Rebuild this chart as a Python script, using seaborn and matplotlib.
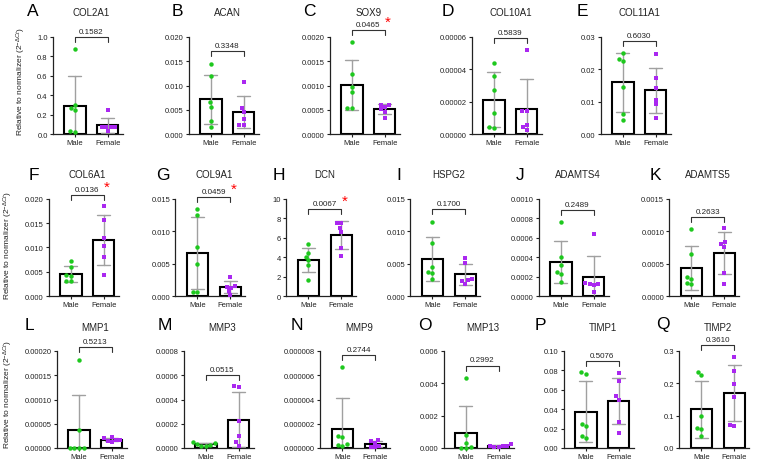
import numpy as np
import pandas as pd
import matplotlib
matplotlib.use("Agg")
import matplotlib.pyplot as plt
import matplotlib.transforms as mtransforms
import seaborn as sb

# ---- data (relative expression, 6 donors per group) ----
genes = ["COL2A1", "ACAN", "SOX9", "COL10A1", "COL11A1",
         "COL6A1", "COL9A1", "DCN", "HSPG2", "ADAMTS4", "ADAMTS5",
         "MMP1", "MMP3", "MMP9", "MMP13", "TIMP1", "TIMP2"]
letters = list("ABCDEFGHIJKLMNOPQ")
p_values = ["0.1582", "0.3348", "0.0465", "0.5839", "0.6030",
            "0.0136", "0.0459", "0.0067", "0.1700", "0.2489", "0.2633",
            "0.5213", "0.0515", "0.2744", "0.2992", "0.5076", "0.3610"]

male_values = [
    [0.873, 0.298, 0.247, 0.267, 0.024, 0.034],
    [0.0144, 0.0120, 0.0065, 0.0056, 0.0027, 0.0015],
    [0.00190, 0.00123, 0.00097, 0.00087, 0.00053, 0.00053],
    [4.42e-5, 3.60e-5, 2.73e-5, 1.27e-5, 4.1e-6, 3.5e-6],
    [0.0250, 0.0233, 0.0226, 0.0144, 0.0062, 0.0044],
    [0.0072, 0.0060, 0.0043, 0.0041, 0.0031, 0.0031],
    [0.0135, 0.0126, 0.0076, 0.0050, 0.0006, 0.0006],
    [5.38, 4.45, 4.04, 3.66, 3.18, 1.64],
    [0.0114, 0.0082, 0.0045, 0.0037, 0.0036, 0.0026],
    [0.00076, 0.00040, 0.00032, 0.00025, 0.00023, 0.00014],
    [0.00103, 0.00065, 0.00029, 0.00027, 0.00020, 0.00018],
    [1.81e-4, 3.77e-5, 1.0e-6, 1.0e-6, 5e-7, 5e-7],
    [4.7e-5, 3.8e-5, 3.3e-5, 2.5e-5, 1.9e-5, 1.4e-5],
    [6.71e-6, 9.6e-7, 8.8e-7, 3.3e-7, 2.5e-7, 1.9e-7],
    [0.00431, 0.00080, 0.00029, 0.00004, 0.0, 0.0],
    [0.0765, 0.0779, 0.0252, 0.0228, 0.0126, 0.0102],
    [0.2265, 0.2347, 0.099, 0.0633, 0.058, 0.0357],
]
female_values = [
    [0.247, 0.068, 0.068, 0.068, 0.068, 0.027],
    [0.0107, 0.0053, 0.0045, 0.0031, 0.0019, 0.0019],
    [0.00060, 0.00059, 0.00056, 0.00051, 0.00046, 0.00034],
    [5.2e-5, 1.44e-5, 1.44e-5, 5.5e-6, 4.1e-6, 2.7e-6],
    [0.0247, 0.0173, 0.0141, 0.0106, 0.0093, 0.0050],
    [0.0186, 0.0156, 0.0120, 0.0103, 0.0081, 0.0043],
    [0.0029, 0.0016, 0.0014, 0.0013, 0.0008, 0.0002],
    [7.53, 7.53, 7.02, 6.61, 4.97, 4.11],
    [0.0058, 0.0051, 0.0027, 0.0024, 0.0023, 0.0019],
    [0.00064, 0.000137, 0.000127, 0.00012, 0.00011, 0.00004],
    [0.00105, 0.00083, 0.00080, 0.00076, 0.00035, 0.00018],
    [2.33e-5, 2.0e-5, 1.65e-5, 1.5e-5, 1.65e-5, 1.3e-5],
    [5.07e-4, 5.12e-4, 2.25e-4, 9.6e-5, 4.7e-5, 1.9e-5],
    [7.0e-7, 5.5e-7, 4.5e-7, 2.0e-7, 1.0e-7, 5e-8],
    [0.00025, 0.00015, 0.00012, 0.00010, 0.00008, 0.00005],
    [0.0772, 0.0687, 0.0534, 0.0500, 0.0272, 0.0150],
    [0.2827, 0.2367, 0.199, 0.158, 0.0684, 0.0714],
]

y_max = [1.0, 0.020, 0.0020, 0.00006, 0.03,
         0.020, 0.015, 10, 0.015, 0.0010, 0.0015,
         0.00020, 0.0008, 0.000008, 0.006, 0.10, 0.3]
y_nticks = [5, 4, 4, 3, 3, 4, 3, 5, 3, 5, 3, 4, 4, 4, 3, 5, 3]
y_decimals = [1, 3, 4, 5, 2, 3, 3, 0, 3, 4, 4, 5, 4, 6, 3, 2, 1]

# ---- layout (pixels) ----
W, H = 760, 464
rows = [0] * 5 + [1] * 6 + [2] * 6
male_center_px = [75, 211, 352, 494, 623,
                  71, 197.5, 308.5, 432.5, 561, 691.5,
                  79, 206, 342.5, 466, 586, 701.5]
row_bottom = [135, 297, 449]
row_title = [13, 175, 328]
row_letter = [11, 175, 325]
letter_x = [33, 177.5, 309, 447.5, 582,
            34, 162.5, 279, 398.5, 520, 655,
            29, 164.5, 296.5, 425, 540, 663]
bracket_frac = [1.0, 0.856, 1.07, 0.99, 0.96,
                1.044, 1.02, 0.897, 0.897, 0.887, 0.81,
                1.04, 0.75, 0.96, 0.85, 0.90, 1.06]
ylabel_pos = [(0, 21, 82), (5, 8, 246), (11, 8, 395)]

green = "#1ec81e"
purple = "#aa28f0"
order = ["Male", "Female"]

sb.set_style("ticks")
plt.rcParams["font.family"] = ["Liberation Sans", "DejaVu Sans"]
plt.rcParams["mathtext.fontset"] = "custom"
plt.rcParams["mathtext.rm"] = "Liberation Sans"
plt.rcParams["mathtext.it"] = "Liberation Sans:italic"

fig = plt.figure(figsize=(W / 100, H / 100), dpi=100)
fig.patch.set_facecolor("white")

for i in range(len(genes)):
    r = rows[i]
    left = male_center_px[i] - 0.68 * 33
    ax = fig.add_axes([left / W, (H - row_bottom[r]) / H, 70 / W, 97 / H])

    df = pd.DataFrame({
        "sex": ["Male"] * len(male_values[i]) + ["Female"] * len(female_values[i]),
        "value": male_values[i] + female_values[i],
    })
    sb.barplot(data=df, x="sex", y="value", order=order, color="white", saturation=1,
               edgecolor="black", linewidth=1.5, width=0.65, errorbar="sd", capsize=0.4,
               err_kws={"color": "#a0a0a0", "linewidth": 1.0}, ax=ax)
    sb.swarmplot(data=df[df.sex == "Male"], x="sex", y="value", order=order,
                 color=green, marker="o", size=3.2, zorder=3, clip_on=False, ax=ax)
    sb.swarmplot(data=df[df.sex == "Female"], x="sex", y="value", order=order,
                 color=purple, marker="s", size=3.0, zorder=3, clip_on=False, ax=ax)

    ax.set_xlim(-0.68, 1.45)
    ax.set_ylim(0, y_max[i])
    ticks = np.linspace(0, y_max[i], y_nticks[i] + 1)
    ax.set_yticks(ticks)
    ax.set_yticklabels([f"{t:.{y_decimals[i]}f}" for t in ticks])
    ax.set_xlabel("")
    ax.set_ylabel("")
    sb.despine(ax=ax)
    for s in ["left", "bottom"]:
        ax.spines[s].set_linewidth(0.9)
        ax.spines[s].set_color("#222222")
    ax.tick_params(axis="y", labelsize=5.5, length=2.5, width=0.8, pad=1, colors="#222222")
    ax.tick_params(axis="x", labelsize=5.5, length=2, width=0.8, pad=1.5, colors="#222222")

    # significance bracket
    trans = mtransforms.blended_transform_factory(ax.transData, ax.transAxes)
    yb = bracket_frac[i]
    d = 5 / 97
    ax.plot([0, 0, 1, 1], [yb - d, yb, yb, yb - d], transform=trans,
            color="#333333", lw=0.8, clip_on=False)
    ax.annotate(p_values[i], xy=(0.5, yb), xycoords=trans, xytext=(0, 1.5),
                textcoords="offset points", ha="center", va="bottom", fontsize=5.8,
                color="#222222")
    if float(p_values[i]) < 0.05:
        ax.annotate("*", xy=(0.5, yb), xycoords=trans, xytext=(12, 1),
                    textcoords="offset points", ha="left", va="bottom", fontsize=11,
                    color="red")

    fig.text((male_center_px[i] + 16.5) / W, 1 - row_title[r] / H, genes[i],
             ha="center", va="center", fontsize=7, color="#222222")
    fig.text(letter_x[i] / W, 1 - row_letter[r] / H, letters[i],
             ha="center", va="center", fontsize=12.5, color="black")

for idx, x, y in ylabel_pos:
    fig.text(x / W, 1 - y / H, r"Relative to normalizer (2$^{-\Delta Ct}$)",
             rotation=90, ha="center", va="center", fontsize=6, color="#222222")

fig.savefig("out.png", dpi=100)
